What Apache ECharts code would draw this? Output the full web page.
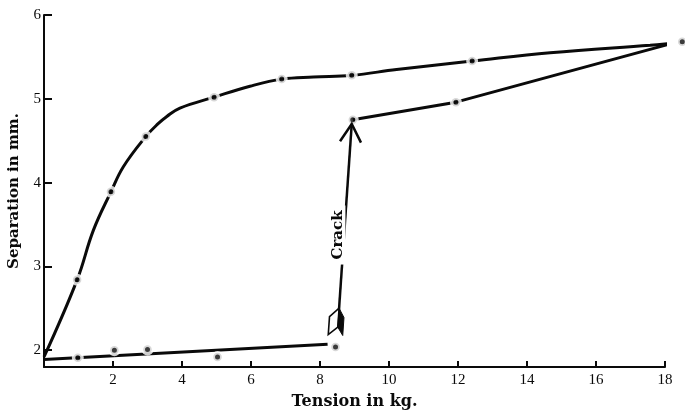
<!DOCTYPE html>
<html><head><meta charset="utf-8">
<style>html,body{margin:0;padding:0;background:#fff}#c{width:685px;height:413px}</style>
<script src="https://cdn.jsdelivr.net/npm/echarts@6.0.0/dist/echarts.min.js"></script>
</head><body><div id="c"></div>
<script>
// ---- data ----
const xTicks = [2, 4, 6, 8, 10, 12, 14, 16, 18];
const yTicks = [2, 3, 4, 5, 6];
const loadCurve = [[0, 1.92], [0.96, 2.84], [1.43, 3.43], [1.94, 3.89], [2.3, 4.19], [2.95, 4.55], [3.3, 4.70], [3.56, 4.79], [3.94, 4.89], [4.93, 5.02], [5.97, 5.15], [6.89, 5.235], [7.81, 5.26], [8.92, 5.28], [10.22, 5.35], [12.41, 5.45], [14.67, 5.55], [17.57, 5.64], [18.19, 5.66]];
const loadDots = [[0.96, 2.84], [1.94, 3.89], [2.95, 4.55], [4.93, 5.02], [6.89, 5.235], [8.92, 5.28], [12.41, 5.45], [18.5, 5.68]];
const lowerLine = [[0, 1.89], [8.22, 2.07]];
const lowerDots = [[0.98, 1.91], [2.04, 2.0], [3.0, 2.01], [5.03, 1.92], [8.45, 2.04]];
const returnLine = [[8.95, 4.75], [11.94, 4.96], [18.19, 5.66]];
const returnDots = [[8.95, 4.75], [11.94, 4.96]];
const crackArrow = [[8.5, 2.18], [8.92, 4.7]];
const crackLabelPos = [8.52, 3.375];
const crackLabel = 'Crack';

const INK = '#0a0a0a';
const chart = echarts.init(document.getElementById('c'), null, {renderer: 'canvas'});

const dotStyle = {color: INK, borderColor: '#fff', borderWidth: 3.5};

chart.setOption({
  backgroundColor: '#fff',
  animation: false,
  grid: {left: 44, right: 20, top: 15, bottom: 46, containLabel: false, outerBoundsMode: 'none'},
  xAxis: {
    type: 'value', min: 0, max: 18,
    name: 'Tension in kg.', nameLocation: 'middle', nameGap: 27,
    nameTextStyle: {fontFamily: '"DejaVu Serif"', fontWeight: 'bold', fontSize: 16, color: INK},
    axisLine: {show: true, lineStyle: {color: INK, width: 2}},
    axisTick: {show: true, inside: true, length: 6, lineStyle: {color: INK, width: 2}, customValues: xTicks},
    axisLabel: {color: INK, fontFamily: '"Liberation Serif"', fontSize: 15, margin: 6, customValues: xTicks},
    splitLine: {show: false}
  },
  yAxis: {
    type: 'value', min: 1.8, max: 6,
    name: 'Separation in mm.', nameLocation: 'middle', nameGap: 22,
    nameTextStyle: {fontFamily: '"DejaVu Serif"', fontWeight: 'bold', fontSize: 15, color: INK},
    axisLine: {show: true, lineStyle: {color: INK, width: 2}},
    axisTick: {show: true, inside: true, length: 8, lineStyle: {color: INK, width: 2}, customValues: yTicks},
    axisLabel: {color: INK, fontFamily: '"Liberation Serif"', fontSize: 15, margin: 3, customValues: yTicks},
    splitLine: {show: false}
  },
  series: [
    {type: 'line', data: loadCurve, smooth: 0.4, showSymbol: false, clip: false, z: 2,
     lineStyle: {color: INK, width: 3}},
    {type: 'line', data: lowerLine, showSymbol: false, clip: false, z: 2, lineStyle: {color: INK, width: 3}},
    {type: 'line', data: returnLine, showSymbol: false, clip: false, z: 2, lineStyle: {color: INK, width: 3}},
    {type: 'scatter', data: loadDots.concat(lowerDots, returnDots), symbol: 'circle', symbolSize: 8.5, clip: false, z: 3,
     itemStyle: dotStyle},
    {type: 'custom', z: 5, clip: false, data: [crackArrow[0]],
     renderItem: function (params, api) {
       const t = api.coord(crackArrow[0]);
       const h = api.coord(crackArrow[1]);
       const dx = h[0] - t[0], dy = h[1] - t[1];
       const L = Math.hypot(dx, dy);
       const ux = dx / L, uy = dy / L, px = -uy, py = ux;
       const P = (u, v) => [t[0] + ux * u + px * v, t[1] + uy * u + py * v];
       const lab = api.coord(crackLabelPos);
       return {type: 'group', children: [
         {type: 'line', shape: {x1: P(8, 0)[0], y1: P(8, 0)[1], x2: h[0], y2: h[1]},
          style: {stroke: INK, lineWidth: 2.5}},
         {type: 'polyline', shape: {points: [P(L - 18, -10.5), P(L, 0), P(L - 18, 10.5)]},
          style: {stroke: INK, lineWidth: 2.5, fill: null}},
         {type: 'polygon', shape: {points: [P(8, 0), P(0, -9), P(18, -9), P(27, 0)]},
          style: {stroke: INK, lineWidth: 1.6, fill: '#fff'}},
         {type: 'polygon', shape: {points: [P(8, 0), P(0, 5.5), P(18, 5.5), P(27, 0)]},
          style: {stroke: INK, lineWidth: 1, fill: INK}},
         {type: 'text', x: lab[0], y: lab[1], rotation: Math.PI / 2,
          style: {text: crackLabel, fontFamily: '"DejaVu Serif"', fontWeight: 'bold', fontSize: 15,
                  fill: INK, align: 'center', verticalAlign: 'middle', backgroundColor: '#fff', padding: [0, 5]}}
       ]};
     }}
  ]
});
</script>
</body></html>
